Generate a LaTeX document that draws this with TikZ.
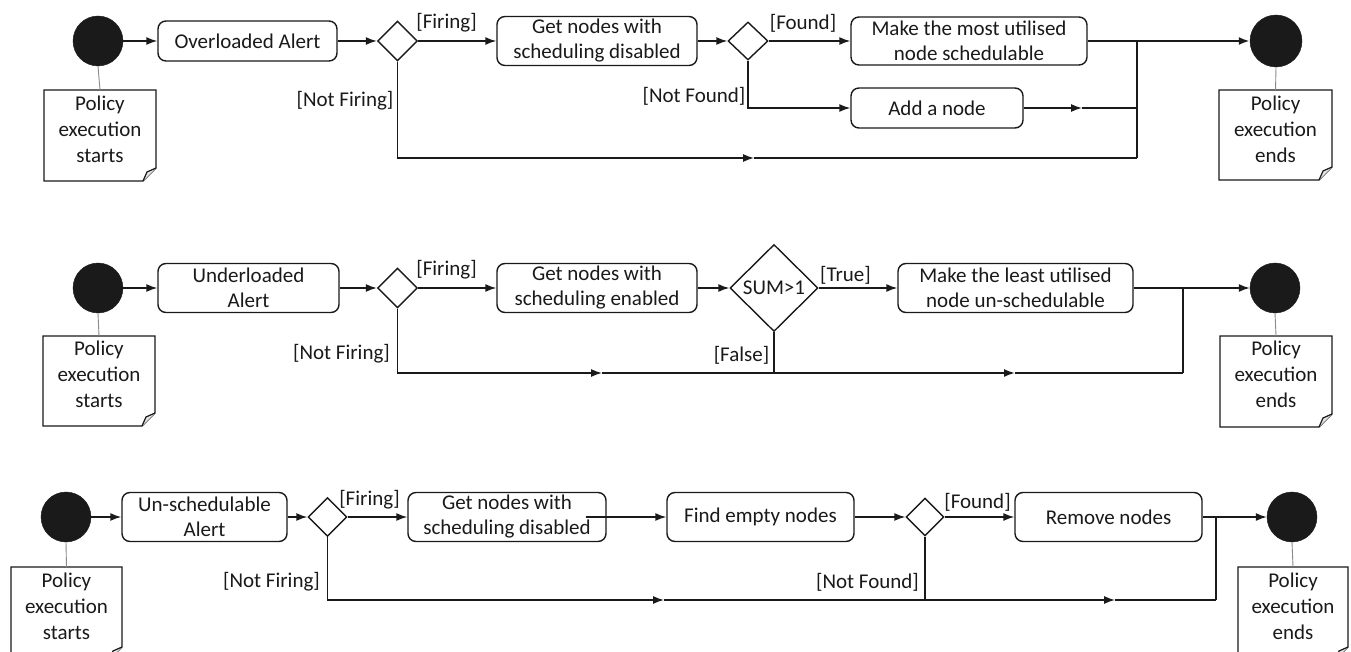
\documentclass[tikz,border=0pt]{standalone}
\usepackage{fontspec}
\setmainfont{Carlito}
\usetikzlibrary{shapes.geometric,arrows.meta,calc}
\definecolor{ink}{HTML}{1A1A1A}
\definecolor{conn}{HTML}{8A8A8A}
\newcommand\pnote[5]{%
  \coordinate (#1) at ({(#2+#4)/2},#3);
  \draw[notebox] (#2,#3) -- (#4,#3) -- (#4,#5-13) -- (#4-13,#5) -- (#2,#5) -- cycle;
  \draw[notebox, fill=ink!12] (#4,#5-13) -- (#4-9,#5-9) -- (#4-13,#5);
}
\begin{document}
\begin{tikzpicture}[x=1pt,y=-1pt,
  every node/.style={font=\fontsize{21}{25}\selectfont, text=ink},
  act/.style={draw=ink, line width=1.4pt, rounded corners=8pt, align=center, inner sep=0pt, minimum height=49pt},
  dec/.style={draw=ink, line width=1.4pt, diamond, inner sep=0pt, minimum width=40pt, minimum height=40pt},
  startend/.style={circle, fill=ink, draw=ink, minimum size=50pt, inner sep=0pt},
  flow/.style={draw=ink, line width=1.4pt},
  arr/.style={flow, -{Latex[length=11pt,width=8pt]}},
  tie/.style={draw=conn, line width=0.9pt},
  notebox/.style={draw=ink, line width=1.2pt},
  notetext/.style={align=center, inner sep=0pt, font=\fontsize{21}{26}\selectfont},
  guard/.style={inner sep=0pt}]
\fill[white] (0,0) rectangle (1351,652);
\useasboundingbox (0,0) rectangle (1351,652);

% ---------------- Row 1 ----------------
\node[startend] (s1) at (98,41) {};
\pnote{n1}{44}{90}{156}{181}
\node[notetext] (t1) at (100,129) {Policy\\execution\\starts};
\node[act, minimum width=179pt, minimum height=40pt] (a1) at (247.5,41) {Overloaded Alert};
\node[dec] (d1) at (397.5,41) {};
\node[act, minimum width=200pt] (g1) at (597,41) {Get nodes with\\scheduling disabled};
\node[dec, minimum height=38pt] (d2) at (748,41) {};
\node[act, minimum width=236pt, minimum height=48pt] (m1) at (969,41) {Make the most utilised\\node schedulable};
\node[act, minimum width=172pt, minimum height=40pt] (add1) at (937,108) {Add a node};
\node[startend, minimum size=52pt] (e1) at (1276,41) {};
\pnote{n2}{1219}{90}{1332}{180}
\node[notetext] (t2) at (1275.5,129) {Policy\\execution\\ends};
\coordinate (j1) at (1137,41);
\coordinate (j1b) at (1137,108);
\coordinate (j1c) at (1137,158);
\coordinate (c1a) at (1082,108);
\coordinate (c1b) at (754,158);
\node[guard] (l1) at (446.5,23) {[Firing]};
\node[guard] (l2) at (803,23) {[Found]};
\node[guard] (l3) at (345,101) {[Not Firing]};
\node[guard] (l4) at (694,96) {[Not Found]};
\draw[tie] (s1.south) -- (n1);
\draw[tie] (e1.south) -- (n2);
\draw[arr] (s1.east) -- (a1.west);
\draw[arr] (a1.east) -- (d1.west);
\draw[arr] (d1.east) -- (g1.west);
\draw[arr] (g1.east) -- (d2.west);
\draw[arr] (d2.east) -- (m1.west);
\draw[arr] (d2.south) |- (add1.west);
\draw[arr] (add1.east) -- (c1a);
\draw[flow] (c1a) -- (j1b);
\draw[flow] (m1.east) -- (j1);
\draw[arr, line width=2.2pt] (j1) -- (e1.west);
\draw[flow, line width=1.8pt] (j1) -- (j1c);
\draw[arr] (d1.south) |- (c1b);
\draw[flow] (c1b) -- (j1c);

% ---------------- Row 2 ----------------
\node[startend] (s2) at (98,288) {};
\pnote{n3}{43}{336}{155}{426}
\node[notetext] (t3) at (99,374) {Policy\\execution\\starts};
\node[act, minimum width=181pt] (a2) at (248.5,288) {Underloaded\\Alert};
\node[dec] (d4) at (397.5,288) {};
\node[act, minimum width=200pt] (g2) at (597,288) {Get nodes with\\scheduling enabled};
\node[dec, minimum width=88pt, minimum height=87pt] (sum) at (774,288) {SUM>1};
\node[act, minimum width=235pt] (m2) at (1015.5,288) {Make the least utilised\\node un-schedulable};
\node[startend] (e2) at (1275,288) {};
\pnote{n4}{1220}{336}{1332}{427}
\node[notetext] (t4) at (1276,374) {Policy\\execution\\ends};
\coordinate (j2) at (1183,288);
\coordinate (j2c) at (1183,373);
\coordinate (j2s) at (774,373);
\coordinate (c2a) at (602,373);
\coordinate (c2b) at (1015,373);
\node[guard] (l5) at (446.5,270) {[Firing]};
\node[guard] (l6) at (845.5,275) {[True]};
\node[guard] (l7) at (341.5,354) {[Not Firing]};
\node[guard] (l8) at (741.5,355) {[False]};
\draw[tie] (s2.south) -- (n3);
\draw[tie] (e2.south) -- (n4);
\draw[arr] (s2.east) -- (a2.west);
\draw[arr] (a2.east) -- (d4.west);
\draw[arr] (d4.east) -- (g2.west);
\draw[arr] (g2.east) -- (sum.west);
\draw[arr] (sum.east) -- (m2.west);
\draw[flow] (m2.east) -- (j2);
\draw[arr] (j2) -- (e2.west);
\draw[flow] (j2) -- (j2c);
\draw[arr] (d4.south) |- (c2a);
\draw[flow] (c2a) -- (j2s);
\draw[flow] (sum.south) -- (j2s);
\draw[arr, line width=1.8pt] (j2s) -- (c2b);
\draw[flow] (c2b) -- (j2c);

% ---------------- Row 3 ----------------
\node[startend] (s3) at (66,517) {};
\pnote{n5}{11}{567}{122}{660}
\node[notetext] (t5) at (66.5,606) {Policy\\execution\\starts};
\node[act, minimum width=165pt] (a3) at (204.5,517) {Un-schedulable\\Alert};
\node[dec, minimum width=39pt, minimum height=39pt] (d5) at (327.5,517) {};
\node[act, minimum width=198pt] (g3) at (507,517) {Get nodes with\\scheduling disabled};
\node[act, minimum width=187pt] (f3) at (760.5,517) {Find empty nodes};
\node[dec, minimum width=38pt, minimum height=38pt] (d6) at (925,517) {};
\node[act, minimum width=187pt] (r3) at (1108.5,517) {Remove nodes};
\node[startend] (e3) at (1292,517) {};
\pnote{n6}{1238}{567}{1348}{660}
\node[notetext] (t6) at (1293,606) {Policy\\execution\\ends};
\coordinate (j3) at (1216,517);
\coordinate (j3c) at (1216,600);
\coordinate (j3s) at (925,600);
\coordinate (c3a) at (664,600);
\coordinate (c3b) at (1115,600);
\node[guard] (l9) at (369.5,500) {[Firing]};
\node[guard] (l10) at (977.5,502) {[Found]};
\node[guard] (l11) at (271.5,582) {[Not Firing]};
\node[guard] (l12) at (867.5,582) {[Not Found]};
\draw[tie] (s3.south) -- (n5);
\draw[tie] (e3.south) -- (n6);
\draw[arr] (s3.east) -- (a3.west);
\draw[arr] (a3.east) -- (d5.west);
\draw[arr] (d5.east) -- (g3.west);
\draw[arr] ([xshift=-21pt]g3.east) -- (f3.west);
\draw[arr] (f3.east) -- (d6.west);
\draw[arr] (d6.east) -- (r3.west);
\draw[flow] (r3.east) -- (j3);
\draw[arr] (j3) -- (e3.west);
\draw[flow] (j3) -- (j3c);
\draw[arr] (d5.south) |- (c3a);
\draw[flow] (c3a) -- (j3s);
\draw[flow] (d6.south) -- (j3s);
\draw[arr] (j3s) -- (c3b);
\draw[flow] (c3b) -- (j3c);
\end{tikzpicture}
\end{document}
